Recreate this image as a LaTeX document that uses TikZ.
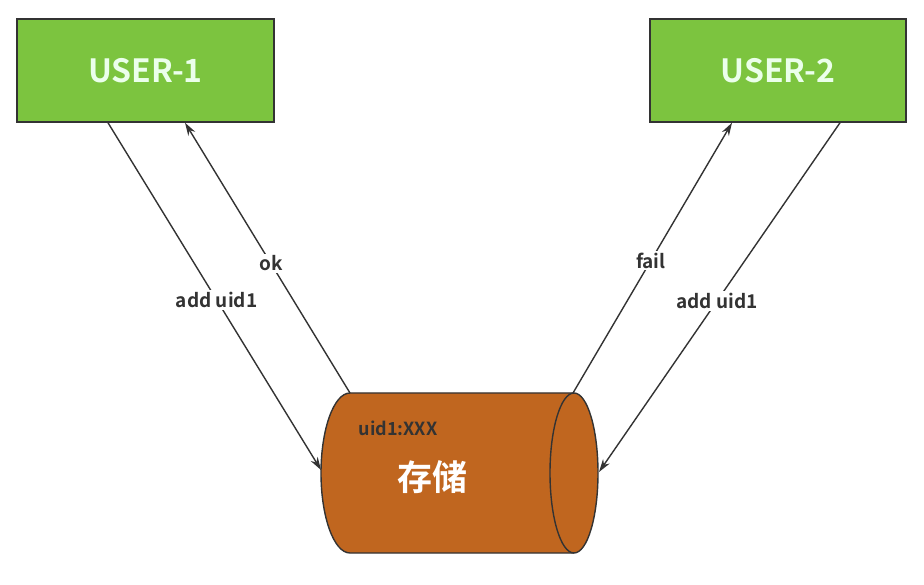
\documentclass[tikz,border=0pt]{standalone}
\usepackage{fontspec}
\setmainfont{Noto Sans CJK SC}[BoldFont={* Bold}]
\newfontfamily\cjkb{Noto Sans CJK SC Bold}
\usetikzlibrary{arrows.meta}
\definecolor{boxgreen}{HTML}{7CC43F}
\definecolor{cylbrown}{HTML}{C0661F}
\definecolor{linegray}{HTML}{333333}
\begin{document}
\begin{tikzpicture}[x=1pt,y=1pt,
  userbox/.style={draw=linegray,line width=1.5pt,fill=boxgreen,minimum width=257pt,minimum height=103pt,inner sep=0pt,
    font=\cjkb\fontsize{32}{36}\selectfont,text=white!92!green},
  conn/.style={draw=linegray,line width=1.4pt,-{Stealth[length=13pt,width=8pt]}},
  lbl/.style={fill=white,inner sep=2pt,font=\cjkb\fontsize{19}{21}\selectfont,text=linegray}]
\fill[white] (0,0) rectangle (924,584);
\useasboundingbox (0,0) rectangle (924,584);
\node[userbox] (u1) at (145.5,513.5) {USER-1};
\node[userbox,minimum width=256pt] (u2) at (778,513.5) {USER-2};
% cylinder
\filldraw[fill=cylbrown,draw=linegray,line width=1.4pt]
  (350,191) -- (574,191) arc[start angle=90,end angle=-90,x radius=24,y radius=80]
  -- (350,31) arc[start angle=270,end angle=90,x radius=29,y radius=80] -- cycle;
\draw[linegray,line width=1.4pt] (574,191) arc[start angle=90,end angle=270,x radius=24,y radius=80];
\node[inner sep=0pt,font=\cjkb\fontsize{18}{20}\selectfont,text=linegray] (uid) at (398,156) {uid1:XXX};
\node[inner sep=0pt,font=\cjkb\fontsize{35}{38}\selectfont,text=white] (store) at (432,107) {存储};
\coordinate (cylL) at (321,114);
\coordinate (cylTL) at (350,191);
\coordinate (cylTR) at (573,191);
\coordinate (cylR) at (599,112);
\coordinate (u1a) at (u1.south west -| 108,0);
\coordinate (u1b) at (u1.south west -| 185,0);
\coordinate (u2a) at (u2.south west -| 732,0);
\coordinate (u2b) at (u2.south west -| 840,0);
\draw[conn] (u1a) -- node[lbl,pos=0.51] {add uid1} (cylL);
\draw[conn] (cylTL) -- node[lbl,pos=0.48] {ok} (u1b);
\draw[conn] (cylTR) -- node[lbl,pos=0.49] {fail} (u2a);
\draw[conn] (u2b) -- node[lbl,pos=0.51] {add uid1} (cylR);
\end{tikzpicture}
\end{document}
